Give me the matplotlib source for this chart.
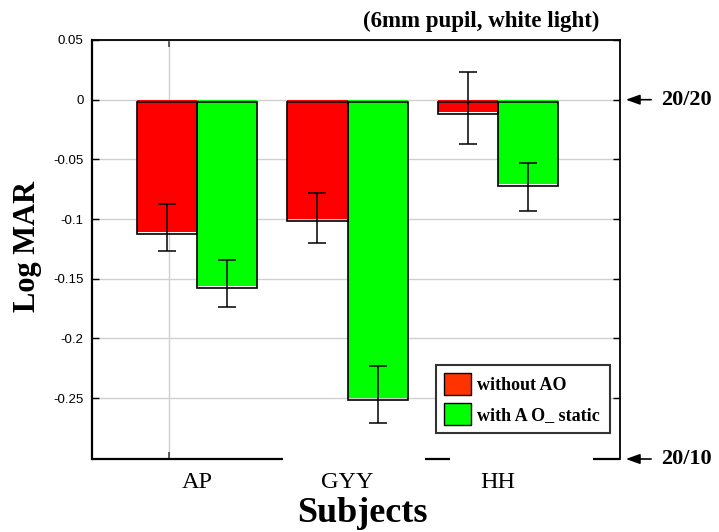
import matplotlib
matplotlib.use("Agg")
import matplotlib.pyplot as plt
import matplotlib.transforms as mtransforms
from matplotlib.patches import Patch
import numpy as np

# ---------------- data ----------------
subjects = ["AP", "GYY", "HH"]
series_names = ["without AO", "with A O_ static"]
without_ao = [-0.111, -0.100, -0.010]
with_ao_static = [-0.156, -0.250, -0.071]
without_ao_err_low = [-0.127, -0.120, -0.037]
without_ao_err_high = [-0.087, -0.078, 0.023]
with_ao_err_low = [-0.174, -0.271, -0.093]
with_ao_err_high = [-0.134, -0.223, -0.053]
ytick_values = [0.05, 0.0, -0.05, -0.1, -0.15, -0.2, -0.25]
ytick_labels = ["0.05", "0", "-0.05", "-0.1", "-0.15", "-0.2", "-0.25"]
snellen_labels = ["20/20", "20/10"]
snellen_logmar = [0.0, -0.301]
title_text = "(6mm pupil, white light)"
xlabel_text = "Subjects"
ylabel_text = "Log MAR"

# ---------------- style ----------------
plt.rcParams["font.family"] = ["Liberation Sans", "DejaVu Sans"]
plt.rcParams["axes.unicode_minus"] = False
SERIF = ["Liberation Serif", "DejaVu Serif"]
RED = "#ff0000"
GREEN = "#00ff00"
W, H = 719, 532

fig = plt.figure(figsize=(W / 100, H / 100), dpi=100)
ax = fig.add_axes([92 / W, (H - 459) / H, 528 / W, 419 / H])

x = np.arange(len(subjects))
bw = 0.4
series = [without_ao, with_ao_static]
err_lo = [without_ao_err_low, with_ao_err_low]
err_hi = [without_ao_err_high, with_ao_err_high]
colors = [RED, GREEN]
offsets = [-bw / 2, bw / 2]

outline_tr = mtransforms.offset_copy(ax.transData, fig=fig, x=0, y=-2, units="dots")

for vals, lo, hi, col, off in zip(series, err_lo, err_hi, colors, offsets):
    vals = np.array(vals)
    xs = x + off
    ax.bar(xs, vals, width=bw, color=col, edgecolor="none", zorder=2)
    ax.bar(xs, vals, width=bw, facecolor="none", edgecolor="black",
           linewidth=1.2, zorder=3, transform=outline_tr)
    lo = np.array(lo)
    hi = np.array(hi)
    center = (lo + hi) / 2
    ax.errorbar(xs, center, yerr=[center - lo, hi - center], fmt="none",
                ecolor="black", elinewidth=1.1, capsize=6.5, capthick=1.1,
                zorder=4)

ax.set_xlim(-0.70, 2.813)
ax.set_ylim(snellen_logmar[1], 0.05)

# grid
ax.set_axisbelow(True)
ax.set_yticks(ytick_values)
ax.set_yticklabels(ytick_labels)
ax.yaxis.grid(True, color="#d0d0d0", linewidth=1.0, zorder=0)
ax.axvline(-0.187, color="#d0d0d0", linewidth=1.0, zorder=0)

ax.tick_params(axis="y", direction="in", length=5, width=1, left=True,
               right=True, labelsize=9.5, pad=6, colors="black")
ax.set_xticks(x)
ax.set_xticklabels(subjects, fontfamily=SERIF, fontsize=17.5)
ax.tick_params(axis="x", which="major", length=0, pad=9)
ax.set_xticks([-0.187], minor=True)
ax.tick_params(axis="x", which="minor", direction="in", length=5, width=1.2,
               top=True, bottom=True, color="#444444")

# spines
ax.spines["left"].set_linewidth(1.6)
ax.spines["right"].set_linewidth(1.3)
ax.spines["top"].set_linewidth(1.3)
ax.spines["bottom"].set_visible(False)
for a, b in [(0.0, 0.362), (0.631, 0.678), (0.949, 1.0)]:
    ax.plot([a, b], [0, 0], transform=ax.transAxes, color="black",
            linewidth=1.6, clip_on=False, solid_capstyle="butt", zorder=5)

# legend
handles = [Patch(facecolor="#ff3300", edgecolor="black", linewidth=1.0),
           Patch(facecolor=GREEN, edgecolor="black", linewidth=1.0)]
leg = ax.legend(handles, series_names, loc="lower left",
                bbox_to_anchor=(0.652, 0.062, 0.329, 0.167), mode="expand",
                prop={"family": SERIF, "weight": "bold", "size": 13},
                frameon=True, fancybox=False, framealpha=1,
                handlelength=1.5, handleheight=1.5, handletextpad=0.3,
                borderpad=0.45, labelspacing=0.45, borderaxespad=0)
leg.get_frame().set_edgecolor("#333333")
leg.get_frame().set_linewidth(1.5)

# Snellen annotations
btr = mtransforms.blended_transform_factory(ax.transAxes, ax.transData)
for lab, val in zip(snellen_labels, snellen_logmar):
    ax.annotate("", xy=(1.011, val), xycoords=btr,
                xytext=(1.059, val), textcoords=btr,
                arrowprops=dict(arrowstyle="-|>,head_length=0.7,head_width=0.25",
                                color="black", lw=1.2,
                                mutation_scale=12, shrinkA=0, shrinkB=0),
                annotation_clip=False)
    ax.text(1.077, val, lab, transform=btr, ha="left", va="center",
            fontfamily=SERIF, fontweight="bold", fontsize=16, clip_on=False)

# titles / labels
fig.text(481 / W, 1 - 21 / H, title_text, ha="center", va="center",
         fontfamily=SERIF, fontweight="bold", fontsize=16.5)
fig.text(362 / W, 1 - 513 / H, xlabel_text, ha="center", va="center",
         fontfamily=SERIF, fontweight="bold", fontsize=26)
fig.text(28 / W, 1 - 246 / H, ylabel_text, ha="center", va="center",
         rotation=90, fontfamily=SERIF, fontweight="bold", fontsize=22)

fig.savefig("out.png", dpi=100)
